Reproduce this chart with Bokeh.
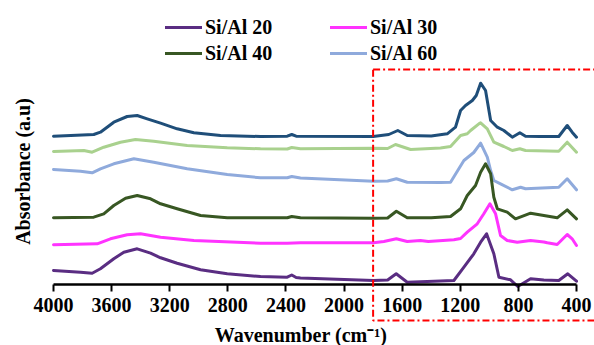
from bokeh.plotting import figure
from bokeh.models import (Range1d, Legend, LegendItem, BoxAnnotation, FixedTicker,
                          LinearAxis, Label)
from bokeh.embed import file_html
from bokeh.resources import INLINE

# ---------------- data ----------------
tick_values = [4000, 3600, 3200, 2800, 2400, 2000, 1600, 1200, 800, 400]

# top navy trace (no legend entry)
wn_top = [4000, 3723, 3677, 3585, 3493, 3424, 3355, 3263, 3149, 3034, 2850, 2575, 2391, 2360, 2330,
          1800, 1692, 1630, 1565, 1400, 1290, 1233, 1198, 1164, 1117, 1090, 1060, 1026, 991, 945,
          900, 842, 790, 751, 650, 522, 464, 430, 400]
ab_top = [1.483, 1.50, 1.523, 1.623, 1.68, 1.69, 1.657, 1.613, 1.557, 1.517, 1.49, 1.48, 1.483, 1.50,
          1.483, 1.48, 1.50, 1.54, 1.49, 1.485, 1.507, 1.573, 1.74, 1.79, 1.84, 1.89, 2.013, 1.94,
          1.64, 1.573, 1.54, 1.473, 1.517, 1.483, 1.48, 1.48, 1.59, 1.523, 1.473]

# light green trace (no legend entry)
wn_green = [4000, 3791, 3734, 3654, 3539, 3436, 3310, 3080, 2804, 2575, 2391, 2360, 2300, 1797, 1700,
            1646, 1542, 1336, 1267, 1198, 1152, 1129, 1072, 1060, 1014, 969, 900, 842, 790, 751,
            522, 464, 400]
ab_green = [1.33, 1.34, 1.323, 1.373, 1.423, 1.45, 1.433, 1.39, 1.367, 1.357, 1.355, 1.37, 1.357, 1.363,
            1.36, 1.40, 1.35, 1.365, 1.38, 1.49, 1.507, 1.54, 1.607, 1.617, 1.557, 1.423, 1.38, 1.34,
            1.357, 1.34, 1.333, 1.423, 1.323]

# Si/Al 60
wn_60 = [4000, 3814, 3734, 3677, 3585, 3447, 3310, 3080, 2804, 2575, 2391, 2360, 2300, 1797, 1700,
         1640, 1565, 1336, 1267, 1210, 1175, 1107, 1060, 1014, 991, 969, 923, 842, 785, 751, 522,
         464, 400]
ab_60 = [1.15, 1.133, 1.117, 1.157, 1.207, 1.257, 1.223, 1.157, 1.10, 1.067, 1.067, 1.08, 1.065, 1.033,
         1.035, 1.057, 1.023, 1.02, 1.023, 1.157, 1.24, 1.32, 1.413, 1.273, 1.14, 1.04, 1.007, 0.947,
         0.973, 0.957, 0.973, 1.057, 0.947]

# Si/Al 40
wn_40 = [4000, 3723, 3654, 3585, 3504, 3424, 3332, 3263, 3149, 2988, 2804, 2391, 2360, 2300, 1797,
         1700, 1640, 1565, 1400, 1267, 1198, 1152, 1095, 1060, 1026, 991, 969, 945, 877, 820, 716,
         625, 533, 464, 400]
ab_40 = [0.667, 0.673, 0.707, 0.79, 0.863, 0.89, 0.857, 0.807, 0.757, 0.69, 0.667, 0.667, 0.68, 0.667,
         0.663, 0.665, 0.733, 0.667, 0.667, 0.68, 0.757, 0.89, 0.99, 1.123, 1.207, 1.107, 0.873, 0.757,
         0.723, 0.657, 0.713, 0.69, 0.667, 0.747, 0.657]

# Si/Al 30
wn_30 = [4000, 3699, 3608, 3493, 3401, 3263, 3034, 2575, 2391, 2300, 1797, 1726, 1640, 1565, 1474,
         1420, 1244, 1198, 1152, 1083, 1038, 996, 957, 923, 877, 808, 716, 625, 601, 533, 464, 430, 400]
ab_30 = [0.397, 0.407, 0.457, 0.497, 0.507, 0.473, 0.44, 0.413, 0.413, 0.417, 0.417, 0.43, 0.457, 0.43,
         0.44, 0.43, 0.447, 0.46, 0.523, 0.607, 0.707, 0.807, 0.707, 0.49, 0.44, 0.423, 0.44, 0.425,
         0.417, 0.40, 0.50, 0.457, 0.39]

# Si/Al 20
wn_20 = [4000, 3814, 3734, 3677, 3585, 3516, 3424, 3332, 3263, 3149, 2988, 2804, 2575, 2391, 2360,
         2330, 2300, 1797, 1700, 1641, 1565, 1244, 1175, 1107, 1060, 1019, 969, 934, 854, 804, 716,
         625, 522, 460, 400]
ab_20 = [0.14, 0.123, 0.113, 0.157, 0.257, 0.323, 0.357, 0.313, 0.267, 0.213, 0.147, 0.107, 0.08, 0.073,
         0.095, 0.07, 0.065, 0.04, 0.045, 0.107, 0.023, 0.04, 0.173, 0.307, 0.423, 0.507, 0.307, 0.073,
         0.047, -0.02, 0.057, 0.045, 0.04, 0.107, 0.033]

legend_labels = ["Si/Al 20", "Si/Al 30", "Si/Al 40", "Si/Al 60"]

# highlighted region (dash-dot box), in axis units
region_left = 1800
region_right = 250
region_top = 2.15
region_bottom = -0.36

# ---------------- layout ----------------
W, H = 594, 345
AX_LEFT_PX, AX_RIGHT_PX, AX_BOTTOM_PX = 53, 576, 284   # where 4000, 400 and 0 sit
PX_PER_UNIT_Y = 100.0
x_span = 4000 - 400
wn_per_px = x_span / (AX_RIGHT_PX - AX_LEFT_PX)
x_start = 4000 + AX_LEFT_PX * wn_per_px
x_end = 400 - (W - AX_RIGHT_PX) * wn_per_px
y_start = -(H - AX_BOTTOM_PX) / PX_PER_UNIT_Y
y_end = AX_BOTTOM_PX / PX_PER_UNIT_Y

FONT = "Liberation Serif"

p = figure(width=W, height=H, output_backend="svg", toolbar_location=None,
           x_range=Range1d(x_start, x_end), y_range=Range1d(y_start, y_end),
           x_axis_location=None, y_axis_location=None, min_border=0)
p.outline_line_color = None
p.grid.visible = False

series = [
    (wn_top, ab_top, "#1F4E79", None),
    (wn_green, ab_green, "#A9D18E", None),
    (wn_60, ab_60, "#8FAADC", "Si/Al 60"),
    (wn_40, ab_40, "#385723", "Si/Al 40"),
    (wn_30, ab_30, "#FF33FF", "Si/Al 30"),
    (wn_20, ab_20, "#5A2D82", "Si/Al 20"),
]
rends = {}
for xs, ys, col, lab in series:
    r = p.line(xs, ys, line_color=col, line_width=3, line_join="round", line_cap="round")
    if lab:
        rends[lab] = r

# x axis at absorbance 0, spanning 4000..400
xa = LinearAxis(fixed_location=0, bounds=(400, 4000), ticker=FixedTicker(ticks=tick_values))
xa.axis_line_width = 2.5
xa.axis_line_color = "black"
xa.major_tick_in = 0
xa.major_tick_out = 7
xa.major_tick_line_width = 2
xa.minor_tick_line_color = None
xa.major_label_text_font = FONT
xa.major_label_text_font_style = "bold"
xa.major_label_text_font_size = "20px"
xa.major_label_text_color = "black"
xa.major_label_standoff = 6
p.add_layout(xa, "below")

# y axis: label only
ya = LinearAxis(fixed_location=4000, bounds=(0, 2.26), ticker=FixedTicker(ticks=[]))
ya.axis_line_color = None
ya.major_tick_line_color = None
ya.major_tick_out = 0
ya.major_tick_in = 0
ya.minor_tick_line_color = None
ya.axis_label = "Absorbance (a.u)"
ya.axis_label_text_font = FONT
ya.axis_label_text_font_style = "bold"
ya.axis_label_text_font_size = "20px"
ya.axis_label_text_color = "black"
ya.axis_label_standoff = 20
p.add_layout(ya, "left")

xtitle = Label(x=4000 - (300.5 - AX_LEFT_PX) * wn_per_px, y=-(334.5 - AX_BOTTOM_PX) / PX_PER_UNIT_Y,
               text="Wavenumber (cm\u207b\u00b9)", text_align="center", text_baseline="middle",
               text_font=FONT, text_font_style="bold", text_font_size="20px", text_color="black")
p.add_layout(xtitle)

box = BoxAnnotation(left=region_left, right=region_right, top=region_top, bottom=region_bottom,
                    fill_alpha=0, fill_color=None, line_color="#FF0000", line_alpha=1.0,
                    line_width=2, line_dash="7 3 2 3")
p.add_layout(box)

legend = Legend(items=[LegendItem(label=k, renderers=[rends[k]]) for k in legend_labels],
                orientation="horizontal", ncols=2, location=(165, H - 66),
                label_width=125, spacing=0, padding=0, margin=0,
                glyph_width=37, glyph_height=20, label_height=26, label_standoff=3,
                border_line_color=None, background_fill_alpha=0,
                label_text_font=FONT, label_text_font_style="bold",
                label_text_font_size="20px", label_text_color="black")
p.add_layout(legend)

open("out.html", "w").write(file_html(p, INLINE))
